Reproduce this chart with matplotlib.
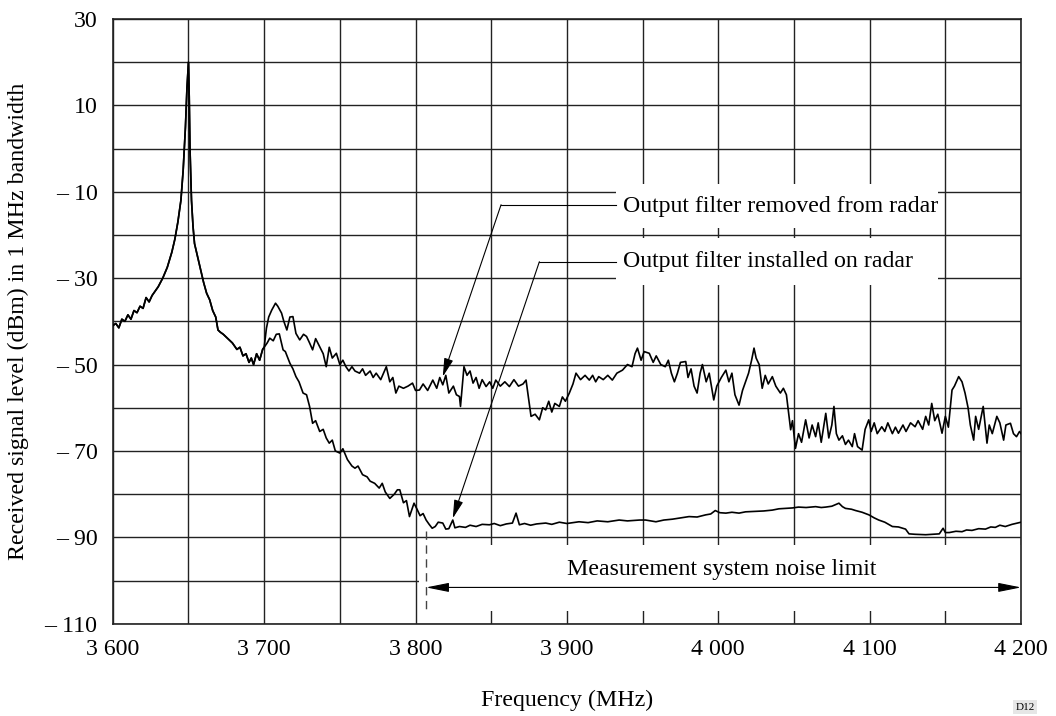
import matplotlib
matplotlib.use('Agg')
import matplotlib.pyplot as plt
from matplotlib.patches import Rectangle
from matplotlib.ticker import MultipleLocator

# Common part of both spectra (carrier peak), 3600-3700 MHz
common_freq = [3600, 3602, 3604, 3606, 3608, 3610, 3612, 3614, 3616, 3618, 3620, 3622,
               3624, 3626, 3628, 3630, 3633, 3636, 3639, 3641, 3643, 3645, 3646.5, 3648,
               3649, 3650, 3650.5, 3651, 3652, 3653, 3654, 3656, 3658, 3660, 3662, 3664,
               3666, 3668, 3669.5, 3671, 3673, 3676, 3679, 3682, 3684, 3686, 3688, 3690,
               3691.5, 3693, 3695, 3697, 3699]
common_level = [-41, -40.5, -41.5, -39.5, -40, -38.5, -39.5, -37.5, -38, -36.5, -37, -34.5,
                -35.5, -34, -33, -32, -30, -27.5, -24, -21, -17, -12, -5, 5,
                14, 20, 12, 0, -12, -18, -22, -25, -28, -31, -33.5, -35,
                -37.5, -39, -42, -42.5, -43, -44, -45, -46.5, -46, -48, -47.5, -49.5,
                -48.5, -50, -47.5, -49, -46.5]

# Output filter removed from radar, 3700-4200 MHz
removed_freq = [3700, 3701.5, 3703, 3705, 3707.5, 3709, 3711.5, 3713, 3715, 3717, 3719, 3721,
                3723.5, 3726, 3728, 3730, 3732, 3734, 3736.7, 3739, 3741, 3743, 3745, 3747.7,
                3750, 3752, 3754, 3756, 3758, 3760, 3763, 3765, 3767, 3770, 3772, 3774,
                3777, 3780.7, 3783, 3785, 3787, 3789, 3792, 3795, 3798, 3800, 3802.6, 3805,
                3808, 3811.4, 3814, 3816, 3818, 3820, 3822, 3825, 3827, 3829, 3829.7, 3832,
                3834, 3836, 3838, 3840, 3842, 3844, 3846.6, 3849, 3851, 3853, 3856, 3859,
                3862, 3865, 3868, 3871, 3873, 3876.3, 3879, 3881.8, 3884, 3886, 3888, 3890,
                3892, 3895, 3897, 3899, 3901.6, 3904, 3906, 3909, 3912, 3914.8, 3917, 3919,
                3921, 3924, 3927, 3930, 3933, 3936.7, 3940, 3943, 3945, 3946.6, 3949, 3951,
                3954.4, 3957, 3959, 3962, 3965, 3967, 3969, 3971, 3973, 3975, 3978.5, 3980,
                3982, 3984, 3986, 3988, 3989.5, 3992, 3994, 3997, 3999, 4002, 4005, 4007,
                4009, 4011, 4013.7, 4016, 4018, 4020, 4022, 4023.6, 4025, 4027, 4029, 4031,
                4033, 4035.7, 4038, 4041, 4043, 4045, 4047.8, 4049, 4051, 4053, 4055, 4057.7,
                4060, 4062, 4064.3, 4066, 4068, 4071, 4073, 4075, 4076.4, 4078, 4079.7, 4082,
                4084, 4086, 4088.5, 4090, 4092, 4095, 4097, 4099.4, 4101, 4103, 4105, 4108,
                4110, 4112, 4115, 4117, 4119, 4122, 4124, 4127, 4130, 4132, 4135, 4137,
                4139, 4141, 4143, 4145, 4147.8, 4150, 4152, 4154.4, 4156, 4158.8, 4161, 4163,
                4165, 4166.5, 4168.7, 4170, 4172, 4175, 4177.5, 4179, 4181, 4184, 4186, 4188.5,
                4190, 4193, 4195, 4197, 4199, 4200]
removed_level = [-46, -41.6, -39, -37.4, -35.8, -36.5, -38.1, -40, -42, -39, -38.9, -42.8,
                 -44.3, -43, -43.5, -45, -46.6, -44, -45.9, -47.5, -50.5, -46, -48.5, -47.4,
                 -50, -49, -50.5, -51.5, -50.5, -51.5, -52, -51, -52.5, -51.5, -53, -52,
                 -53.5, -50.5, -54, -53, -56.6, -55, -55.5, -55, -54.3, -56, -55.9, -54.5,
                 -56, -53.6, -55.5, -53, -54.7, -52.5, -56.6, -55, -57, -57.4, -59.7, -50.5,
                 -52.5, -51.5, -54.3, -53, -55.5, -53.5, -55.1, -54, -55.5, -53.6, -55, -54,
                 -55.1, -53.5, -55, -54.5, -53.6, -62, -61.5, -62.8, -60, -60.5, -58.5, -61,
                 -59, -59.7, -57.5, -58.5, -56.6, -54.5, -52, -53.5, -52.5, -53.6, -52.5, -54,
                 -52.8, -53.5, -52.5, -53.6, -52, -51.3, -50, -50.5, -47.5, -46.2, -49, -47,
                 -47.4, -49.5, -48, -50, -50.5, -49, -52, -54, -52, -49.5, -49.3, -53,
                 -51, -55, -56.6, -52, -50, -54, -52, -58.2, -55, -53, -51.3, -54,
                 -52, -57, -59.4, -56, -54, -52, -49, -46.2, -48.5, -50, -55.5, -52.5,
                 -54.5, -52.8, -55, -56.6, -55.5, -57, -65.1, -63, -69.4, -66, -68, -62.8,
                 -67, -64, -66.7, -63.5, -68, -61.3, -67, -64, -59.7, -66, -67.5, -66.5,
                 -68.5, -67.5, -69, -66, -69, -69.8, -65, -62.8, -65.5, -63.5, -66, -64.4,
                 -65.5, -63.5, -66, -64.5, -65.9, -64, -65.5, -63.5, -64.4, -63, -65, -62,
                 -64, -59, -63, -61.5, -65.9, -62, -64.5, -55.9, -55, -52.8, -54, -56.6,
                 -60, -64, -67.5, -62, -65, -59.7, -68.2, -64, -66, -62, -63.5, -67.5,
                 -64, -63.6, -66, -66.7, -65.5, -66]

# Output filter installed on radar, 3700-4200 MHz
installed_freq = [3700, 3702, 3703.7, 3706, 3708, 3710, 3712.5, 3714, 3717, 3719, 3721, 3723,
                  3725.7, 3728, 3730, 3732, 3734, 3736.7, 3739, 3741, 3743, 3745, 3747, 3750,
                  3752, 3755, 3758, 3760, 3762, 3765, 3768, 3770, 3773, 3776, 3778, 3780,
                  3783, 3786, 3788, 3789.6, 3792, 3794, 3796, 3799, 3801, 3803, 3805, 3807,
                  3809, 3811, 3813, 3815, 3818, 3820, 3822, 3824.6, 3826, 3829, 3833, 3836,
                  3840, 3844, 3848.8, 3852, 3856, 3860, 3864, 3866.4, 3868.6, 3872, 3876, 3880,
                  3886, 3890, 3895, 3900, 3908, 3914, 3920, 3927, 3934.5, 3940, 3948, 3952,
                  3958.8, 3964, 3969.7, 3975, 3980.7, 3986, 3991.7, 3995, 3998, 4001, 4005, 4009,
                  4013.7, 4018, 4024.7, 4030, 4035.7, 4040, 4044.5, 4049, 4053, 4058, 4064.3, 4068,
                  4071, 4075, 4079.7, 4082, 4084, 4088, 4090.7, 4095, 4099.5, 4103, 4106, 4110,
                  4115, 4119, 4123.7, 4126, 4130, 4137, 4142, 4146, 4148.5, 4150, 4152.6, 4157,
                  4161, 4164, 4167.6, 4172, 4176.5, 4180, 4183, 4186, 4189.6, 4194, 4198.7, 4200]
installed_level = [-46, -45, -43.9, -44.5, -43, -42.9, -46.6, -47, -49.7, -51, -52.8, -54,
                   -56.6, -57, -59.7, -63.6, -63, -65.5, -65, -67, -68.2, -67.5, -70, -70.5,
                   -69.5, -72, -73.5, -74, -73.5, -75.5, -76, -77, -77.5, -78.6, -77.5, -79.5,
                   -81, -80, -79, -79, -82, -81.5, -85.2, -82.1, -83.5, -85, -84.5, -86,
                   -87, -87.9, -87.5, -86.5, -86.7, -88.1, -88, -86, -87.8, -87.5, -87.7, -87.2,
                   -87.5, -87, -87.1, -86.8, -87.3, -86.9, -86.7, -84.4, -87.1, -86.8, -87.2, -86.9,
                   -86.7, -87, -86.5, -86.8, -86.4, -86.6, -86.2, -86.4, -86, -86.2, -86, -86,
                   -86.4, -86, -85.8, -85.5, -85.2, -85.3, -84.8, -84.6, -83.8, -84.3, -84.4, -84.2,
                   -84.4, -84.1, -84, -83.9, -83.7, -83.4, -83.3, -83.2, -83, -83.1, -82.9, -83.1,
                   -83, -82.8, -82.1, -82.9, -83.3, -83.5, -83.8, -84.2, -84.8, -85.5, -86, -86.5,
                   -87.5, -87.6, -88.1, -89.2, -89.3, -89.4, -89.3, -89.2, -87.9, -88.9, -88.9, -88.6,
                   -88.7, -88.3, -88.4, -88, -88.1, -87.6, -87.7, -87.2, -87.5, -87, -86.6, -86.5]

x_ticks = [3600, 3700, 3800, 3900, 4000, 4100, 4200]
x_labels = ['3 600', '3 700', '3 800', '3 900', '4 000', '4 100', '4 200']
y_ticks = [-110, -90, -70, -50, -30, -10, 10, 30]
y_labels = ['\u2013 110', '\u2013 90', '\u2013 70', '\u2013 50', '\u2013 30', '\u2013 10', '10', '30']

plt.rcParams['font.family'] = ['Liberation Serif', 'DejaVu Serif']
plt.rcParams['font.size'] = 17.2

fig = plt.figure(figsize=(10.56, 7.16), dpi=100)
ax = fig.add_axes([0.1068, 0.1289, 0.8601, 0.8446])

# Curves
ax.plot(common_freq + removed_freq, common_level + removed_level, color='black', lw=1.2, zorder=3)
ax.plot(common_freq + installed_freq, common_level + installed_level, color='black', lw=1.2, zorder=3)

ax.set_xlim(3600, 4200)
ax.set_ylim(-110, 30)

# Axes and grid
ax.set_xticks(x_ticks)
ax.set_xticklabels(x_labels)
ax.set_yticks(y_ticks)
ax.set_yticklabels(y_labels)
ax.xaxis.set_minor_locator(MultipleLocator(50))
ax.yaxis.set_minor_locator(MultipleLocator(10))
ax.tick_params(which='both', length=0)
ax.tick_params(axis='x', pad=11)
ax.tick_params(axis='y', pad=11)
ax.set_axisbelow(True)
ax.grid(which='both', color='#222222', lw=1.0)
for sp in ax.spines.values():
    sp.set_linewidth(1.2)
    sp.set_color('#222222')

# White label boxes that hide the grid
ax.add_patch(Rectangle((3932.4, -18.4), 4145 - 3932.4, 10.3, facecolor='white', edgecolor='none', zorder=1))
ax.add_patch(Rectangle((3932.4, -31.6), 4145 - 3932.4, 10.9, facecolor='white', edgecolor='none', zorder=1))
ax.add_patch(Rectangle((3802, -107), 398, 15.3, facecolor='white', edgecolor='none', zorder=1))

# Annotations
ax.text(3937, -14.6, 'Output filter removed from radar', ha='left', va='baseline', zorder=4)
ax.text(3937, -27.4, 'Output filter installed on radar', ha='left', va='baseline', zorder=4)
ax.plot([3932.4, 3856.5], [-13, -13], color='black', lw=0.8, zorder=4)
ax.plot([3932.4, 3881.8], [-26.2, -26.2], color='black', lw=0.8, zorder=4)
head = '-|>,head_length=0.8,head_width=0.2'
ax.annotate('', xy=(3818, -52.8), xytext=(3856.5, -13),
            arrowprops=dict(arrowstyle=head, mutation_scale=14, lw=0.8, color='black',
                            shrinkA=0, shrinkB=0), zorder=4)
ax.annotate('', xy=(3824.6, -85.6), xytext=(3881.8, -26.2),
            arrowprops=dict(arrowstyle=head, mutation_scale=14, lw=0.8, color='black',
                            shrinkA=0, shrinkB=0), zorder=4)

# Noise limit
ax.plot([3807, 3807], [-88.5, -107.4], color='#444444', lw=1.0, dashes=(6, 4), zorder=4)
ax.annotate('', xy=(3807, -101.6), xytext=(4200, -101.6),
            arrowprops=dict(arrowstyle='<|-|>,head_length=1.0,head_width=0.2', mutation_scale=14,
                            lw=0.8, color='black', shrinkA=0, shrinkB=0), zorder=4)
ax.text(4002, -98.7, 'Measurement system noise limit', ha='center', va='baseline', zorder=4)

# Axis titles
fig.text(18 / 1056, 1 - 321 / 716, 'Received signal level (dBm) in 1 MHz bandwidth',
         rotation=90, ha='center', va='center')
fig.text(567 / 1056, 1 - 700 / 716, 'Frequency (MHz)', ha='center', va='center')

# Figure code in the corner
fig.text(1025 / 1056, 1 - 707 / 716, 'D12', fontsize=8, ha='center', va='center',
         bbox=dict(facecolor='#e6e6e6', edgecolor='none', pad=2))

plt.savefig('out.png', dpi=100)
plt.close()
